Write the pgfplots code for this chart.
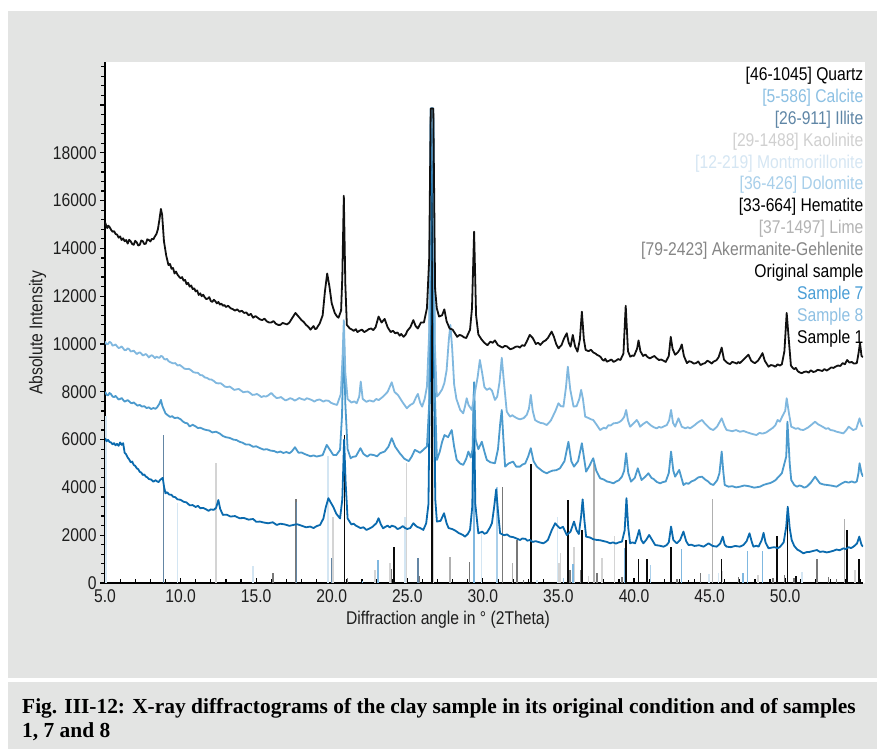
\documentclass[border=0pt]{standalone}
\usepackage{fontspec}
\setmainfont{Liberation Sans}[FakeStretch=0.85]
\newfontfamily\capfont{Liberation Serif}
\usepackage{pgfplots}
\pgfplotsset{compat=1.18}

\definecolor{panel}{RGB}{227,228,227}
\definecolor{tickc}{RGB}{30,30,30}
\definecolor{sOne}{RGB}{17,17,17}
\definecolor{sEight}{RGB}{128,184,223}
\definecolor{sSeven}{RGB}{75,154,205}
\definecolor{sOrig}{RGB}{10,106,174}
\definecolor{cQuartz}{RGB}{10,10,10}
\definecolor{cCalcite}{RGB}{128,184,224}
\definecolor{cIllite}{RGB}{100,134,164}
\definecolor{cKaol}{RGB}{212,212,212}
\definecolor{cMont}{RGB}{212,230,243}
\definecolor{cDolo}{RGB}{170,207,234}
\definecolor{cLime}{RGB}{176,176,176}
\definecolor{cAker}{RGB}{120,120,120}
\definecolor{lCalcite}{RGB}{140,192,227}
\definecolor{lIllite}{RGB}{95,134,166}
\definecolor{lKaol}{RGB}{208,208,208}
\definecolor{lMont}{RGB}{213,230,243}
\definecolor{lDolo}{RGB}{168,207,234}
\definecolor{lLime}{RGB}{179,179,179}
\definecolor{lAker}{RGB}{133,133,133}
\definecolor{lSeven}{RGB}{74,158,214}
\definecolor{lEight}{RGB}{142,192,227}

\begin{document}
\begin{tikzpicture}[x=1bp,y=1bp]
\path[use as bounding box] (0,0) rectangle (877,749);
\fill[panel] (8,71) rectangle (877,738);
\fill[panel] (8,0) rectangle (877,67);
\fill[white] (105,166) rectangle (865,687);

\begin{axis}[
  at={(105bp,166bp)}, anchor=south west,
  scale only axis, width=758bp, height=521bp,
  xmin=5, xmax=55.15, ymin=0, ymax=21800,
  scaled y ticks=false, scaled x ticks=false,
  axis x line*=bottom, axis y line*=left,
  axis line style={line width=1.5bp, black, -},
  xtick={5,10,...,50},
  xticklabels={5.0,10.0,15.0,20.0,25.0,30.0,35.0,40.0,45.0,50.0},
  minor xtick={6,7,8,9,11,12,13,14,16,17,18,19,21,22,23,24,26,27,28,29,31,32,33,34,36,37,38,39,41,42,43,44,46,47,48,49,51,52,53,54,55},
  ytick={0,2000,...,20000},
  yticklabels={0,2000,4000,6000,8000,10000,12000,14000,16000,18000,{}},
  minor ytick={400,800,...,21600},
  xtick align=inside, ytick align=outside,
  major tick length=5bp, minor tick length=4bp,
  every tick/.style={black, line width=1.2bp},
  tick label style={font=\fontsize{18.5}{20}\selectfont, text=tickc},
  xticklabel style={yshift=-3bp},
  label style={font=\fontsize{18.5}{20}\selectfont, text=tickc},
  xlabel={Diffraction angle in ° (2Theta)},
  ylabel={Absolute Intensity},
  xlabel style={at={(ticklabel cs:0.4525)}, anchor=north, yshift=-2bp},
  ylabel style={at={(ticklabel cs:0.48)}},
  clip=true,
]
% ---- reference patterns (sticks) ----
\addplot[ycomb, mark=none, draw=cMont, line width=1.5bp] coordinates {
(5.05,7000)(9.8,3350)(14.8,725)(19.75,5300)(24.85,2780)(29.9,2100)(33.57,120)(34.93,2780)(40.3,750)(44.95,390)(45.6,400)(51.1,450)};
\addplot[ycomb, mark=none, draw=cKaol, line width=1.5bp] coordinates {
(12.36,5010)(20.1,2780)(22.87,545)(23.86,825)(24.96,5010)(26.72,7000)(35.05,830)(35.15,1240)(36.04,1520)(37.0,300)(37.87,1030)(38.7,1970)(45.85,500)(48.2,350)(54.63,530)};
\addplot[ycomb, mark=none, draw=cDolo, line width=1.5bp] coordinates {
(30.95,4000)(35.33,200)(41.1,750)(50.55,220)};
\addplot[ycomb, mark=none, draw=cLime, line width=1.5bp] coordinates {
(27.83,1100)(31.95,825)(37.36,5010)(45.2,3500)(53.92,2680)};
\addplot[ycomb, mark=none, draw=cAker, line width=1.5bp] coordinates {
(16.1,405)(17.62,3500)(21.05,200)(23.97,600)(25.76,300)(29.1,890)(31.3,4000)(32.25,1800)(32.7,125)(35.77,540)(36.48,540)(37.54,400)(39.2,250)(42.83,170)(44.4,430)(46.9,250)(49.2,190)(49.94,350)(50.6,200)(52.1,990)(52.88,260)(53.4,160)};
\addplot[ycomb, mark=none, draw=cIllite, line width=1.3bp] coordinates {
(8.85,6200)(17.68,3400)(20.0,1040)(25.7,1030)(36.55,700)};
\addplot[ycomb, mark=none, draw=cCalcite, line width=1.5bp] coordinates {
(22.05,80)(23.05,960)(29.4,7800)(35.95,800)(39.4,1450)(43.15,1410)(47.2,400)(47.5,1340)(48.5,1340)};
\addplot[ycomb, mark=none, draw=cQuartz, line width=1.5bp] coordinates {
(20.86,6200)(24.12,1520)(26.64,19850)(33.17,4980)(35.62,3470)(36.56,2220)(39.47,1800)(40.29,990)(40.87,990)(42.45,1520)(43.6,125)(45.8,990)(49.47,1970)(50.14,3220)(50.7,300)(54.08,2220)(54.9,990)};

% ---- original sample (dark blue) ----
\addplot[draw=sOrig, line width=1.8bp, mark=none, line join=round] coordinates {
(5.0,6060)(5.1,5930)(5.2,5990)(5.3,5900)(5.4,5880)(5.5,5800)(5.6,5850)(5.7,5760)(5.8,5820)(5.9,5740)(6.0,5880)(6.1,5780)(6.2,5850)(6.3,5450)(6.4,5380)(6.5,5250)(6.6,5170)(6.7,5050)(6.8,5080)(6.9,4940)(7.0,4900)(7.1,4800)(7.2,4760)(7.3,4650)(7.4,4620)(7.5,4520)(7.6,4540)(7.7,4450)(7.8,4420)(7.9,4350)(8.05,4330)(8.2,4240)(8.35,4300)(8.45,4250)(8.55,4220)(8.64,4310)(8.82,4400)(8.9,4050)(9.0,3750)(9.1,3800)(9.25,3700)(9.4,3690)(9.5,3610)(9.65,3590)(9.8,3500)(10.0,3480)(10.2,3400)(10.4,3370)(10.6,3250)(10.8,3260)(11.0,3180)(11.15,3230)(11.3,3130)(11.5,3140)(11.7,3080)(11.85,3020)(12.0,3080)(12.2,3060)(12.35,3150)(12.5,3470)(12.62,3100)(12.8,2850)(13.05,2860)(13.3,2780)(13.6,2800)(13.9,2710)(14.2,2720)(14.5,2650)(14.8,2680)(15.0,2560)(15.26,2570)(15.5,2530)(15.8,2500)(16.1,2540)(16.36,2430)(16.6,2480)(16.9,2450)(17.2,2390)(17.46,2430)(17.7,2460)(18.0,2400)(18.3,2330)(18.57,2360)(18.8,2300)(19.0,2380)(19.23,2430)(19.45,2700)(19.6,3150)(19.78,3550)(19.95,3350)(20.1,3190)(20.3,2900)(20.55,2700)(20.7,3500)(20.82,6000)(20.92,4200)(21.05,2700)(21.3,2450)(21.45,2480)(21.6,2400)(21.75,2350)(21.9,2300)(22.1,2330)(22.3,2220)(22.5,2280)(22.7,2350)(22.95,2500)(23.1,2710)(23.25,2450)(23.4,2290)(23.55,2350)(23.7,2400)(23.85,2320)(23.97,2400)(24.2,2350)(24.35,2260)(24.5,2290)(24.7,2380)(24.85,2300)(25.0,2260)(25.2,2300)(25.4,2500)(25.55,2400)(25.65,2350)(25.85,2300)(26.06,2220)(26.25,2500)(26.4,3300)(26.52,10000)(26.58,19850)(26.7,19850)(26.78,8000)(26.85,3500)(26.96,2570)(27.2,2600)(27.43,2920)(27.6,2500)(27.73,2300)(28.0,2250)(28.15,2200)(28.27,2150)(28.4,2090)(28.55,2050)(28.7,2000)(28.82,1940)(29.0,2050)(29.15,2220)(29.3,3200)(29.4,7900)(29.5,3300)(29.7,2080)(29.85,2120)(29.95,2150)(30.1,2060)(30.26,2100)(30.45,2300)(30.6,2500)(30.75,3200)(30.88,3920)(31.0,3000)(31.14,2080)(31.4,2000)(31.6,2030)(31.8,1940)(32.0,1920)(32.2,1870)(32.46,1800)(32.6,1860)(32.8,1850)(32.95,1770)(33.1,1800)(33.3,1720)(33.5,1750)(33.75,1700)(34.0,1660)(34.15,1720)(34.3,1800)(34.55,2200)(34.78,2500)(34.95,2380)(35.1,2290)(35.3,2350)(35.55,2010)(35.8,2150)(36.03,2570)(36.2,2200)(36.35,2050)(36.5,2800)(36.6,3500)(36.72,2600)(36.83,1940)(37.1,1900)(37.3,1830)(37.54,1800)(37.75,1790)(38.0,1750)(38.2,1720)(38.43,1660)(38.6,1700)(38.8,1650)(39.0,1700)(39.2,1730)(39.38,2200)(39.5,3550)(39.62,2300)(39.74,1660)(39.9,1700)(40.07,1660)(40.2,1900)(40.34,2220)(40.48,1800)(40.62,1660)(40.8,1800)(41.0,2010)(41.2,1800)(41.4,1590)(41.7,1560)(41.95,1520)(42.15,1580)(42.3,1700)(42.45,2360)(42.6,1800)(42.83,1660)(43.05,1800)(43.27,2150)(43.45,1750)(43.6,1590)(43.8,1600)(44.0,1550)(44.3,1580)(44.6,1520)(44.93,1660)(45.2,1550)(45.47,1520)(45.7,1650)(45.87,1940)(46.0,1600)(46.13,1520)(46.4,1500)(46.7,1550)(47.0,1520)(47.24,1590)(47.45,1750)(47.64,2080)(47.8,1700)(47.9,1520)(48.1,1560)(48.24,1520)(48.45,1800)(48.57,2100)(48.7,1700)(48.9,1450)(49.1,1480)(49.3,1500)(49.5,1450)(49.67,1520)(49.9,1700)(50.07,2360)(50.17,3190)(50.3,2300)(50.43,1800)(50.6,1550)(50.8,1400)(51.0,1330)(51.2,1240)(51.4,1290)(51.6,1300)(51.85,1340)(52.1,1380)(52.3,1300)(52.5,1320)(52.75,1280)(52.98,1310)(53.2,1350)(53.4,1400)(53.6,1370)(53.86,1450)(54.0,1420)(54.2,1500)(54.35,1460)(54.52,1520)(54.75,1650)(54.9,1940)(55.05,1600)(55.15,1520)};

% ---- sample 7 (medium blue) ----
\addplot[draw=sSeven, line width=1.8bp, mark=none, line join=round] coordinates {
(5.0,8000)(5.1,7880)(5.2,7850)(5.3,7950)(5.4,7900)(5.5,7800)(5.6,7780)(5.7,7830)(5.8,7750)(5.9,7680)(6.0,7700)(6.1,7740)(6.2,7660)(6.3,7590)(6.4,7620)(6.5,7650)(6.6,7600)(6.7,7540)(6.8,7520)(6.9,7560)(7.0,7500)(7.15,7420)(7.3,7450)(7.45,7380)(7.6,7400)(7.75,7320)(7.9,7350)(8.05,7280)(8.2,7320)(8.35,7290)(8.45,7350)(8.6,7500)(8.7,7660)(8.8,7400)(9.0,7100)(9.15,7020)(9.3,6950)(9.45,6980)(9.6,6900)(9.8,6920)(10.0,6850)(10.15,6760)(10.3,6700)(10.45,6680)(10.6,6550)(10.8,6620)(11.0,6550)(11.15,6480)(11.3,6500)(11.5,6440)(11.7,6400)(11.9,6380)(12.1,6300)(12.35,6330)(12.6,6250)(12.8,6150)(13.0,6100)(13.25,6070)(13.5,6000)(13.7,5980)(13.9,5910)(14.1,5870)(14.3,5800)(14.55,5790)(14.8,5700)(15.0,5720)(15.26,5640)(15.5,5580)(15.7,5600)(15.95,5540)(16.2,5520)(16.4,5460)(16.6,5500)(16.8,5440)(17.0,5480)(17.2,5430)(17.35,5500)(17.57,5680)(17.8,5450)(18.0,5460)(18.2,5400)(18.4,5350)(18.6,5300)(18.8,5340)(19.0,5290)(19.2,5320)(19.4,5350)(19.67,5780)(19.85,5600)(20.1,5360)(20.3,5350)(20.55,5570)(20.68,7000)(20.8,10500)(20.9,7500)(21.05,5600)(21.25,5220)(21.4,5280)(21.6,5300)(21.9,5640)(22.1,5400)(22.35,5290)(22.55,5380)(22.8,5350)(23.0,5300)(23.2,5430)(23.5,5500)(23.75,5700)(23.97,6060)(24.2,5700)(24.5,5430)(24.65,5320)(24.8,5200)(25.1,5100)(25.3,5300)(25.5,5570)(25.7,5500)(25.85,5450)(26.1,5600)(26.3,5710)(26.45,7500)(26.55,19850)(26.72,19850)(26.82,8000)(26.96,5150)(27.15,5500)(27.3,5900)(27.46,6190)(27.7,6100)(27.94,6400)(28.1,5700)(28.27,5150)(28.5,5000)(28.7,4940)(28.9,5200)(29.04,5500)(29.2,5250)(29.32,5600)(29.42,8400)(29.52,6000)(29.7,5600)(29.93,5910)(30.1,5500)(30.26,5150)(30.5,5050)(30.8,5010)(31.0,5600)(31.15,6700)(31.25,7240)(31.35,6100)(31.47,4870)(31.7,5000)(32.0,5080)(32.2,4870)(32.46,4870)(32.6,4950)(32.8,5000)(33.0,5300)(33.17,5640)(33.35,5100)(33.57,4870)(33.9,4700)(34.05,4640)(34.23,4590)(34.4,4650)(34.6,4700)(34.85,4720)(35.1,4800)(35.4,5100)(35.66,5910)(35.85,5100)(36.03,4870)(36.3,5100)(36.55,5850)(36.7,5200)(36.83,4660)(37.05,4900)(37.3,5220)(37.5,4700)(37.76,4380)(38.0,4330)(38.2,4250)(38.4,4220)(38.64,4170)(38.8,4240)(39.0,4300)(39.2,4450)(39.35,4700)(39.48,5430)(39.62,4600)(39.8,4240)(40.05,4400)(40.25,4800)(40.4,4500)(40.5,4310)(40.75,4450)(40.95,4590)(41.15,4400)(41.3,4350)(41.5,4230)(41.73,4170)(41.9,4220)(42.1,4250)(42.3,4600)(42.45,5500)(42.6,4700)(42.72,4450)(42.99,4730)(43.27,4100)(43.45,4180)(43.6,4150)(43.8,4250)(44.0,4300)(44.25,4420)(44.5,4450)(44.7,4330)(44.9,4250)(45.05,4150)(45.25,4100)(45.5,4300)(45.65,4590)(45.8,5500)(45.9,4700)(46.0,4100)(46.25,4030)(46.5,4050)(46.75,4000)(47.0,4030)(47.3,4080)(47.6,4050)(47.95,3990)(48.34,4030)(48.55,4100)(48.8,4150)(49.0,4180)(49.2,4240)(49.35,4300)(49.5,4400)(49.78,4590)(49.95,5000)(50.07,5290)(50.15,6750)(50.3,5000)(50.4,4310)(50.6,4100)(50.77,4030)(50.95,4080)(51.1,4050)(51.25,3990)(51.43,4030)(51.7,4200)(51.98,4450)(52.15,4300)(52.3,4170)(52.55,4120)(52.8,4100)(53.1,4070)(53.4,4030)(53.7,4150)(53.97,4240)(54.2,4200)(54.4,4250)(54.6,4200)(54.74,4250)(54.85,4600)(54.92,5010)(55.05,4600)(55.15,4450)};

% ---- sample 8 (light blue) ----
\addplot[draw=sEight, line width=1.8bp, mark=none, line join=round] coordinates {
(5.0,10100)(5.1,9990)(5.2,10000)(5.3,10090)(5.4,10050)(5.5,9930)(5.6,9950)(5.7,9980)(5.8,9900)(5.9,9830)(6.0,9850)(6.1,9900)(6.2,9820)(6.3,9740)(6.4,9750)(6.5,9820)(6.6,9780)(6.7,9690)(6.8,9700)(6.9,9720)(7.0,9650)(7.1,9580)(7.2,9620)(7.3,9650)(7.4,9600)(7.5,9520)(7.6,9550)(7.7,9580)(7.8,9520)(7.9,9440)(8.0,9500)(8.1,9530)(8.2,9480)(8.3,9410)(8.4,9470)(8.5,9440)(8.6,9420)(8.7,9500)(8.8,9480)(8.9,9380)(9.0,9350)(9.1,9380)(9.2,9280)(9.35,9230)(9.5,9190)(9.65,9200)(9.8,9100)(9.95,9120)(10.1,9050)(10.25,8970)(10.4,8950)(10.55,8960)(10.7,8900)(10.85,8820)(11.0,8800)(11.15,8790)(11.3,8700)(11.45,8690)(11.6,8600)(11.75,8580)(11.9,8520)(12.05,8510)(12.2,8450)(12.35,8370)(12.5,8350)(12.65,8360)(12.8,8290)(12.95,8210)(13.1,8200)(13.25,8220)(13.4,8150)(13.55,8080)(13.7,8100)(13.85,8120)(14.0,8050)(14.15,7980)(14.3,8000)(14.45,8010)(14.6,7950)(14.75,7870)(14.9,7880)(15.05,7910)(15.2,7850)(15.35,7780)(15.5,7820)(15.65,7800)(15.8,7850)(16.0,7950)(16.2,7820)(16.35,7740)(16.5,7750)(16.65,7780)(16.8,7700)(16.95,7640)(17.1,7680)(17.25,7730)(17.4,7700)(17.55,7630)(17.7,7680)(17.85,7740)(18.0,7700)(18.2,7660)(18.35,7730)(18.5,7700)(18.7,7650)(18.85,7590)(19.0,7650)(19.2,7680)(19.45,7590)(19.6,7640)(19.8,7620)(19.95,7540)(20.1,7500)(20.35,7450)(20.6,7900)(20.72,9500)(20.8,11000)(20.9,8800)(21.05,7700)(21.3,7550)(21.5,7600)(21.65,7520)(21.82,7800)(21.92,8430)(22.05,7700)(22.3,7580)(22.5,7640)(22.76,7590)(22.95,7700)(23.1,7650)(23.4,7800)(23.7,8000)(23.97,8400)(24.15,8000)(24.4,7850)(24.7,7550)(24.97,7310)(25.2,7450)(25.4,7520)(25.6,7800)(25.7,7910)(25.85,7550)(25.98,7380)(26.15,7700)(26.3,8220)(26.45,10500)(26.55,19850)(26.7,19850)(26.82,10000)(26.95,7800)(27.1,7900)(27.3,8100)(27.45,8360)(27.6,8900)(27.75,10200)(27.85,10800)(27.97,9800)(28.1,8300)(28.25,7700)(28.5,7240)(28.7,7100)(28.82,7400)(28.93,7730)(29.05,7450)(29.27,7240)(29.45,7900)(29.65,8600)(29.8,9330)(29.95,8800)(30.1,8200)(30.26,8080)(30.45,8150)(30.6,8050)(30.8,7660)(30.95,7800)(31.1,8400)(31.25,9420)(31.38,8500)(31.58,7170)(31.8,6960)(31.95,7020)(32.1,6950)(32.3,6880)(32.46,6850)(32.7,6900)(32.9,7030)(33.05,7300)(33.17,7870)(33.3,7200)(33.45,6820)(33.6,6760)(33.8,6700)(34.0,6680)(34.23,6610)(34.5,6800)(34.8,7200)(35.0,7520)(35.15,7400)(35.33,7380)(35.5,8200)(35.62,9050)(35.78,8100)(36.0,7380)(36.2,7400)(36.38,7700)(36.5,8080)(36.62,7700)(36.77,6960)(37.0,6900)(37.15,6850)(37.3,6820)(37.55,6600)(37.76,6400)(38.0,6500)(38.15,6460)(38.3,6600)(38.45,6590)(38.64,6680)(38.9,6700)(39.05,6740)(39.2,6820)(39.35,6950)(39.48,7240)(39.6,6800)(39.74,6540)(40.0,6700)(40.18,6820)(40.3,6700)(40.4,6540)(40.6,6650)(40.84,6750)(41.1,6600)(41.3,6520)(41.5,6470)(41.65,6530)(41.8,6500)(42.0,6560)(42.17,6610)(42.32,6800)(42.45,7240)(42.58,6700)(42.72,6540)(42.94,6890)(43.16,6540)(43.4,6470)(43.55,6520)(43.7,6470)(43.85,6530)(44.0,6600)(44.15,6680)(44.3,6750)(44.5,6820)(44.65,6700)(44.8,6600)(45.05,6450)(45.25,6400)(45.5,6550)(45.8,6890)(46.0,6550)(46.13,6400)(46.3,6380)(46.5,6350)(46.75,6400)(47.0,6330)(47.25,6360)(47.5,6300)(47.8,6240)(48.1,6190)(48.3,6280)(48.5,6250)(48.75,6300)(48.97,6400)(49.2,6500)(49.35,6600)(49.5,6820)(49.65,6750)(49.8,6960)(50.0,7200)(50.1,7730)(50.25,7100)(50.4,6540)(50.55,6500)(50.7,6450)(50.85,6480)(51.0,6420)(51.2,6400)(51.35,6450)(51.5,6500)(51.7,6600)(51.98,6750)(52.15,6650)(52.3,6600)(52.5,6530)(52.7,6450)(52.85,6480)(53.0,6400)(53.2,6380)(53.4,6330)(53.6,6300)(53.85,6260)(54.05,6400)(54.2,6540)(54.35,6470)(54.5,6400)(54.7,6450)(54.92,6890)(55.05,6600)(55.15,6550)};

% ---- sample 1 (black) ----
\addplot[draw=sOne, line width=1.8bp, mark=none, line join=round] coordinates {
(5.0,15100)(5.08,14950)(5.15,14850)(5.22,14950)(5.3,14900)(5.4,14780)(5.5,14700)(5.6,14720)(5.7,14600)(5.8,14580)(5.9,14450)(6.0,14500)(6.1,14350)(6.2,14420)(6.3,14300)(6.4,14350)(6.5,14200)(6.6,14360)(6.7,14300)(6.8,14180)(6.9,14150)(7.0,14320)(7.1,14250)(7.2,14120)(7.3,14150)(7.4,14330)(7.5,14300)(7.6,14180)(7.7,14200)(7.8,14380)(7.9,14350)(8.0,14290)(8.1,14400)(8.2,14380)(8.3,14500)(8.4,14600)(8.5,14800)(8.6,15200)(8.7,15650)(8.78,15400)(8.9,14300)(9.05,13700)(9.2,13300)(9.3,13350)(9.4,13150)(9.5,13180)(9.6,12950)(9.7,13030)(9.8,12900)(9.9,12820)(10.0,12750)(10.1,12800)(10.2,12650)(10.3,12680)(10.4,12500)(10.5,12560)(10.6,12400)(10.7,12450)(10.8,12300)(10.9,12330)(11.0,12200)(11.1,12240)(11.2,12050)(11.3,12120)(11.4,12000)(11.5,12060)(11.6,11950)(11.7,11880)(11.8,11900)(11.9,11960)(12.0,11800)(12.1,11760)(12.2,11850)(12.3,11790)(12.4,11700)(12.5,11760)(12.6,11650)(12.7,11690)(12.8,11600)(12.9,11630)(13.0,11550)(13.15,11600)(13.3,11500)(13.45,11460)(13.6,11400)(13.75,11450)(13.9,11350)(14.05,11390)(14.2,11300)(14.35,11320)(14.5,11200)(14.65,11260)(14.8,11100)(14.95,11170)(15.1,11100)(15.25,11030)(15.4,11000)(15.55,11060)(15.7,10950)(15.85,10900)(16.0,10900)(16.15,10960)(16.3,10850)(16.45,10800)(16.6,10800)(16.75,10880)(16.9,10850)(17.05,10820)(17.2,10900)(17.45,11150)(17.6,11300)(17.8,11150)(18.0,11000)(18.15,10920)(18.3,10800)(18.45,10720)(18.6,10600)(18.7,10680)(18.8,10750)(18.9,10620)(19.0,10650)(19.1,10760)(19.2,10850)(19.4,11200)(19.55,12200)(19.7,12950)(19.85,12400)(20.0,11700)(20.2,11300)(20.35,11150)(20.45,11100)(20.62,11400)(20.7,12800)(20.8,16200)(20.9,12500)(21.0,10800)(21.1,10720)(21.2,10650)(21.35,10600)(21.45,10550)(21.6,10620)(21.7,10500)(21.85,10560)(22.0,10600)(22.15,10500)(22.3,10550)(22.45,10620)(22.6,10650)(22.75,10580)(22.9,10700)(23.1,11150)(23.3,10900)(23.5,11050)(23.7,10700)(23.8,10600)(23.9,10500)(24.05,10550)(24.2,10450)(24.35,10480)(24.5,10350)(24.6,10420)(24.75,10300)(24.9,10400)(25.0,10550)(25.2,10700)(25.4,11000)(25.55,10750)(25.7,10650)(25.9,10900)(26.1,10900)(26.3,11500)(26.45,13600)(26.55,19850)(26.72,19850)(26.84,12300)(26.95,11500)(27.1,11150)(27.3,11200)(27.45,11450)(27.6,10950)(27.8,10650)(28.0,10600)(28.15,10450)(28.3,10300)(28.45,10380)(28.6,10350)(28.75,10280)(28.9,10250)(29.15,10600)(29.28,11500)(29.42,14700)(29.55,11200)(29.7,10400)(29.9,10200)(30.1,10050)(30.3,9950)(30.5,10100)(30.65,10050)(30.8,10150)(31.0,9950)(31.15,9900)(31.3,9850)(31.45,9920)(31.6,9900)(31.8,9780)(32.0,9820)(32.15,9880)(32.3,9900)(32.45,9850)(32.6,9950)(32.75,9920)(32.9,10100)(33.1,10380)(33.3,10250)(33.5,10000)(33.65,10050)(33.8,9960)(34.0,10100)(34.15,10150)(34.3,10250)(34.55,10520)(34.7,10300)(34.85,10000)(35.0,9820)(35.2,9950)(35.35,10200)(35.55,10450)(35.68,10050)(35.8,9890)(35.95,10380)(36.1,9900)(36.26,9680)(36.42,10200)(36.55,11350)(36.68,10200)(36.8,9750)(37.0,9700)(37.15,9760)(37.3,9650)(37.45,9600)(37.55,9550)(37.7,9500)(37.8,9450)(37.9,9350)(38.0,9300)(38.1,9380)(38.2,9260)(38.35,9300)(38.5,9350)(38.65,9250)(38.8,9300)(38.95,9370)(39.1,9330)(39.3,9600)(39.45,11600)(39.6,9700)(39.75,9470)(39.9,9520)(40.0,9500)(40.2,9800)(40.3,10150)(40.42,9700)(40.6,9500)(40.75,9560)(40.9,9450)(41.05,9400)(41.2,9450)(41.35,9500)(41.5,9400)(41.65,9330)(41.8,9350)(41.95,9300)(42.1,9250)(42.3,9500)(42.43,10300)(42.55,9800)(42.72,9550)(42.9,9650)(43.05,9800)(43.16,9980)(43.3,9500)(43.5,9200)(43.65,9280)(43.8,9250)(43.95,9180)(44.1,9200)(44.25,9270)(44.4,9120)(44.55,9170)(44.7,9200)(44.85,9300)(45.0,9250)(45.15,9180)(45.25,9260)(45.45,9320)(45.6,9450)(45.8,9850)(45.95,9350)(46.1,9250)(46.2,9200)(46.35,9160)(46.5,9250)(46.65,9220)(46.8,9180)(46.9,9250)(47.0,9200)(47.25,9350)(47.4,9450)(47.57,9550)(47.75,9300)(47.9,9230)(48.0,9200)(48.2,9300)(48.4,9500)(48.5,9620)(48.65,9300)(48.8,9150)(48.9,9050)(49.05,9120)(49.2,9100)(49.35,9050)(49.5,9150)(49.65,9100)(49.78,9150)(49.95,9700)(50.1,11300)(50.25,10100)(50.38,9100)(50.5,9000)(50.6,8950)(50.7,9000)(50.85,8850)(51.0,8800)(51.1,8780)(51.25,8830)(51.4,8850)(51.55,8800)(51.7,8900)(51.85,8830)(52.0,8850)(52.15,8920)(52.3,8900)(52.45,8870)(52.6,8950)(52.75,8890)(52.9,8950)(53.05,9020)(53.2,9000)(53.35,9060)(53.5,9100)(53.65,9080)(53.8,9200)(53.95,9150)(54.1,9330)(54.25,9220)(54.4,9250)(54.55,9180)(54.74,9200)(54.85,9600)(54.95,10050)(55.05,9500)(55.15,9450)};
\end{axis}

% ---- legend (text only) ----
\begin{scope}[every node/.style={anchor=base east, inner sep=0pt, font=\fontsize{18.5}{20}\selectfont}]
\node[text=black]    at (863.5,668.5) {[46-1045] Quartz};
\node[text=lCalcite] at (863.5,646.6) {[5-586] Calcite};
\node[text=lIllite]  at (863.5,624.7) {[26-911] Illite};
\node[text=lKaol]    at (863.5,602.8) {[29-1488] Kaolinite};
\node[text=lMont]    at (863.5,580.9) {[12-219] Montmorillonite};
\node[text=lDolo]    at (863.5,559.0) {[36-426] Dolomite};
\node[text=black]    at (863.5,537.1) {[33-664] Hematite};
\node[text=lLime]    at (863.5,515.2) {[37-1497] Lime};
\node[text=lAker]    at (863.5,493.3) {[79-2423] Akermanite-Gehlenite};
\node[text=black]    at (863.5,471.4) {Original sample};
\node[text=lSeven]   at (863.5,449.5) {Sample 7};
\node[text=lEight]   at (863.5,427.6) {Sample 8};
\node[text=black]    at (863.5,405.7) {Sample 1};
\end{scope}

% ---- caption ----
\node[anchor=base west, inner sep=0pt, font=\capfont\bfseries\fontsize{21.5}{24}\selectfont, text=black] at (22,35) {Fig. III-12: X-ray diffractograms of the clay sample in its original condition and of samples};
\node[anchor=base west, inner sep=0pt, font=\capfont\bfseries\fontsize{21.5}{24}\selectfont, text=black] at (22,11) {1, 7 and 8};
\end{tikzpicture}
\end{document}
